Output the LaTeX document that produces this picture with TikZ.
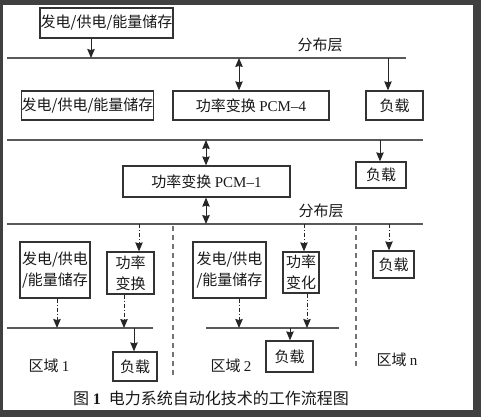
\documentclass[tikz,border=0pt]{standalone}
\usepackage{fontspec}
\setmainfont{Noto Sans CJK SC}
\newfontfamily\lat{Liberation Serif}
\usetikzlibrary{arrows.meta}
\begin{document}
\begin{tikzpicture}[x=1pt,y=-1pt,line cap=butt,line join=miter,>={Stealth[length=9pt,width=7.5pt,inset=1pt]},font=\fontsize{15}{21}\selectfont,text=black!90]
            \tikzset{box/.style={draw=black!80,line width=1.3pt,inner sep=0pt,align=center},
                bus/.style={draw=black!65,line width=1.6pt},
                link/.style={->,draw=black!85,line width=.9pt},
                dlink/.style={link,dash pattern=on 4pt off 2pt on 1pt off 2pt},
                sep/.style={draw=black!55,line width=1.2pt,dash pattern=on 5pt off 4pt}
            }
            \useasboundingbox (0,0) rectangle (481,417);
            \fill[black!75] (0,0) rectangle (481,417);
            \fill[white] (3,5) rectangle (473,410);
            % upper part
            \node[box,minimum width=133,minimum height=30] (gen1) at (106.5,23) {发电/供电/能量储存};
            \node[box,minimum width=127,minimum height=29] (gen2) at (87.5,105.5) {发电/供电/能量储存};
            \node[box,minimum width=156,minimum height=29] (pcm4) at (251,105.5) {功率变换 {\lat PCM–4}};
            \node[box,minimum width=57,minimum height=29] (load1) at (394.5,105.5) {负载};
            \node[box,minimum width=167,minimum height=31] (pcm1) at (206.5,181.5) {功率变换 {\lat PCM–1}};
            \node[box,minimum width=50,minimum height=26] (load2) at (381,175) {负载};
            \draw[bus] (7,58)--(406,58) (7,140)--(423,140) (7,224)--(423,224);
            \node (lay1) at (320,45) {分布层};
            \node (lay2) at (321,211) {分布层};
            \coordinate (b1a) at (91,58); \coordinate (b1b) at (239,58); \coordinate (b1c) at (388,58);
            \coordinate (b2a) at (206,140); \coordinate (b2b) at (380,140);
            \coordinate (b3a) at (206,224); \coordinate (b3b) at (139,224);
            \coordinate (b3c) at (304,224); \coordinate (b3d) at (389,224);
            \draw[link] (gen1.south-|b1a)--(b1a);
            \draw[link,<->] (b1b)--(b1b|-pcm4.north);
            \draw[link] (b1c)--(b1c|-load1.north);
            \draw[link,<->] (b2a)--(b2a|-pcm1.north);
            \draw[link] (b2b)--(b2b|-load2.north);
            \draw[link,<->] (pcm1.south-|b3a)--(b3a);
            % regions
            \node[box,minimum width=70,minimum height=56] (genA) at (55,270) {发电/供电\\/能量储存};
            \node[box,minimum width=47,minimum height=42] (powA) at (130.5,273) {功率\\变换};
            \node[box,minimum width=44,minimum height=29] (loadA) at (135,366.5) {负载};
            \node[box,minimum width=73,minimum height=56] (genB) at (229.5,270) {发电/供电\\/能量储存};
            \node[box,minimum width=36,minimum height=41] (powB) at (301,272.5) {功率\\变化};
            \node[box,minimum width=47,minimum height=31] (loadB) at (289.5,356.5) {负载};
            \node[box,minimum width=41,minimum height=27] (loadN) at (393.5,264.5) {负载};
            \draw[bus] (7,328)--(153,328) (206,328)--(339,328);
            \coordinate (c1) at (57,328); \coordinate (c2) at (124,328); \coordinate (c3) at (134,328);
            \coordinate (c4) at (239,328); \coordinate (c5) at (307,328); \coordinate (c6) at (290,328);
            \draw[dlink] (b3b)--(b3b|-powA.north);
            \draw[dlink] (b3c)--(b3c|-powB.north);
            \draw[dlink] (b3d)--(b3d|-loadN.north);
            \draw[dlink] (genA.south-|c1)--(c1);
            \draw[dlink] (powA.south-|c2)--(c2);
            \draw[link] (c3)--(c3|-loadA.north);
            \draw[dlink] (genB.south-|c4)--(c4);
            \draw[dlink] (powB.south-|c5)--(c5);
            \draw[link] (c6)--(c6|-loadB.north);
            \draw[sep] (173,226)--(173,378) (356,226)--(356,368);
            \node (reg1) at (49,366) {区域 {\lat 1}};
            \node (reg2) at (231,366) {区域 {\lat 2}};
            \node (regn) at (397,360) {区域 {\lat n}};
            \node[font=\fontsize{16}{18}\selectfont] (cap) at (211,398) {图 {\lat\bfseries 1}\enspace 电力系统自动化技术的工作流程图};
    \end{tikzpicture}
\end{document}
